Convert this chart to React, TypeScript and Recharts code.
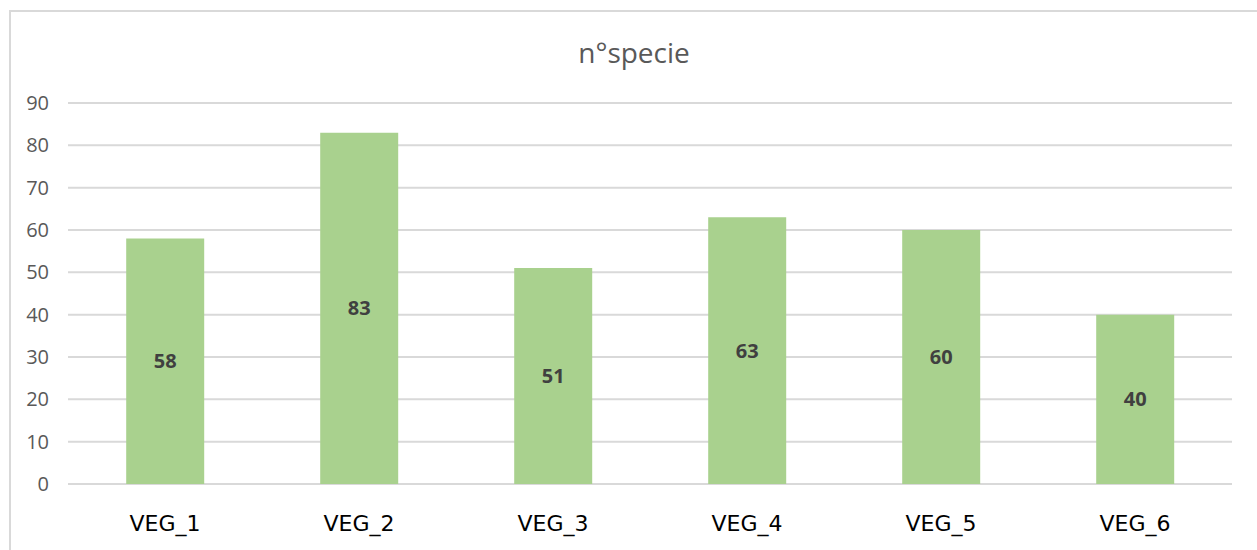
import { BarChart, Bar, XAxis, YAxis, CartesianGrid, LabelList } from "recharts";

const categorie = ["VEG_1", "VEG_2", "VEG_3", "VEG_4", "VEG_5", "VEG_6"];
const nSpecie = [58, 83, 51, 63, 60, 40];
const yTicks = [0, 10, 20, 30, 40, 50, 60, 70, 80, 90];

const dati = categorie.map((c, i) => ({ nome: c, specie: nSpecie[i] }));

const W = 1257;
const H = 550;

export default function App() {
  return (
    <div style={{ position: "absolute", left: 0, top: 0, width: W, height: H, background: "#fff", overflow: "hidden" }}>
      {/* cornice del grafico, tagliata a destra e in basso */}
      <div style={{ position: "absolute", left: 9, top: 10, right: -10, bottom: -10, borderLeft: "2px solid #d9d9d9", borderTop: "2px solid #d9d9d9" }} />
      <svg width={W} height={H} style={{ position: "absolute", left: 0, top: 0, pointerEvents: "none" }}>
        <text x={634} y={63} textAnchor="middle" fontFamily="'Open Sans'" fontSize={28} fill="#595959">
          n°specie
        </text>
      </svg>
      <div style={{ position: "absolute", left: 0, top: 0 }}>
        <BarChart width={W} height={H} data={dati} margin={{ top: 103, right: 25, left: 10, bottom: 0 }} barCategoryGap="30%">
          <CartesianGrid stroke="#d9d9d9" strokeWidth={2} vertical={false} />
          <XAxis
            dataKey="nome"
            height={66}
            axisLine={false}
            tickLine={false}
            tickSize={0}
            tickMargin={31}
            tick={{ fill: "#000", fontSize: 22, fontFamily: "'DejaVu Sans'" }}
          />
          <YAxis
            width={58}
            domain={[0, 90]}
            ticks={yTicks}
            axisLine={false}
            tickLine={false}
            tickSize={0}
            tickMargin={19}
            tick={{ fill: "#595959", fontSize: 20, fontFamily: "'Open Sans'" }}
          />
          <Bar dataKey="specie" fill="#a9d18e" isAnimationActive={false}>
            <LabelList dataKey="specie" position="center" fill="#404040" fontSize={20} fontWeight="bold" fontFamily="'Open Sans'" />
          </Bar>
        </BarChart>
      </div>
    </div>
  );
}
